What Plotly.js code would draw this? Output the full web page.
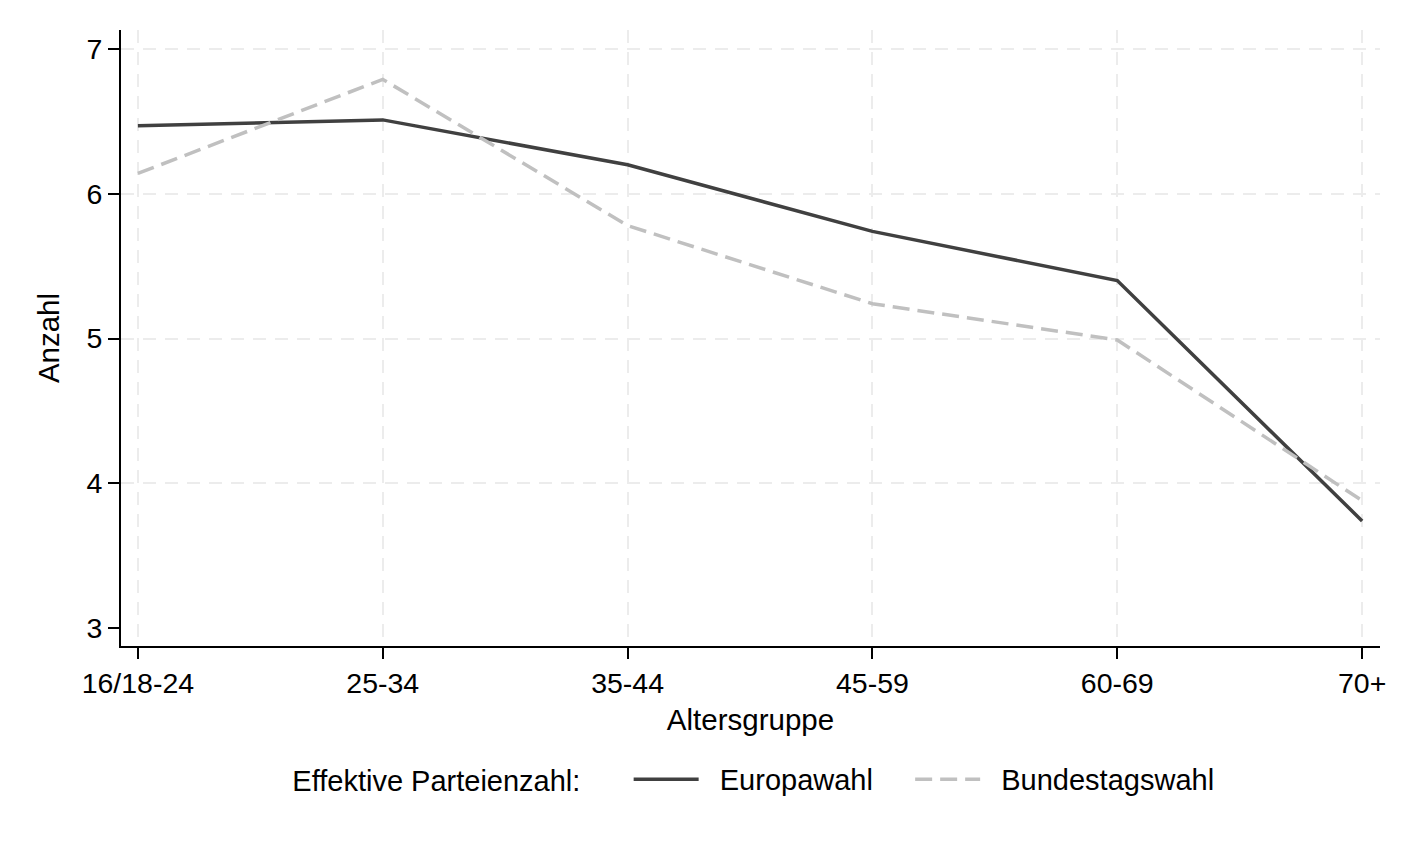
<!DOCTYPE html>
<html>
<head>
<meta charset="utf-8">
<script src="https://cdn.plot.ly/plotly-3.0.1.min.js"></script>
<style>
  html, body { margin: 0; padding: 0; background: #fff; }
  #plot { width: 1411px; height: 846px; }
</style>
</head>
<body>
<div id="plot"></div>
<script>
const ageGroups = ['16/18-24', '25-34', '35-44', '45-59', '60-69', '70+']
const europawahl = [6.47, 6.51, 6.20, 5.74, 5.40, 3.74]
const bundestagswahl = [6.14, 6.79, 5.78, 5.24, 4.99, 3.88]
const yTicks = [3, 4, 5, 6, 7]
const yGridTicks = [4, 5, 6, 7]

const FONT = 'Liberation Sans, Arial, sans-serif'
const gridColor = '#ececec'
const pad = '\u00a0\u00a0'
const trail = '\u00a0\u00a0\u00a0\u00a0'

const traceEuropa = {
    x: ageGroups,
    y: europawahl,
    type: 'scatter',
    mode: 'lines',
    name: pad + 'Europawahl' + trail,
    line: { color: '#404040', width: 3.5 }
}

const traceBundestag = {
    x: ageGroups,
    y: bundestagswahl,
    type: 'scatter',
    mode: 'lines',
    name: pad + 'Bundestagswahl',
    line: { color: '#c0c0c0', width: 3.5, dash: '17px,8px' }
}

const layout = {
    width: 1411,
    height: 846,
    margin: { l: 121, r: 31, t: 30, b: 200 },
    paper_bgcolor: '#fff',
    plot_bgcolor: '#fff',
    font: { family: FONT, size: 28.5, color: '#000' },
    showlegend: true,
    legend: {
        orientation: 'h',
        x: 0.1345,
        xanchor: 'left',
        y: -0.175,
        yanchor: 'top',
        title: { text: 'Effektive Parteienzahl:\u00a0\u00a0\u00a0\u00a0\u00a0', side: 'left', font: { size: 29 } },
        font: { size: 29 },
        itemwidth: 65,
        bgcolor: 'rgba(0,0,0,0)'
    },
    xaxis: {
        type: 'category',
        range: [-0.069, 5.073],
        showline: true,
        linecolor: '#000',
        linewidth: 2,
        ticks: 'outside',
        ticklen: 11,
        tickwidth: 2,
        tickcolor: '#000',
        showgrid: true,
        gridcolor: gridColor,
        gridwidth: 2,
        griddash: '13px,9px',
        zeroline: false,
        title: { text: 'Altersgruppe', standoff: 11, font: { size: 29.5 } },
        tickfont: { size: 28.5 }
    },
    yaxis: {
        range: [2.876, 7.131],
        tickvals: yTicks,
        ticktext: yTicks.map(String),
        showline: true,
        linecolor: '#000',
        linewidth: 2,
        ticks: 'outside',
        ticklen: 11,
        tickwidth: 2,
        tickcolor: '#000',
        showgrid: false,
        zeroline: false,
        title: { text: 'Anzahl', standoff: 18, font: { size: 29.5 } },
        tickfont: { size: 28.5 }
    },
    yaxis2: {
        range: [2.876, 7.131],
        overlaying: 'y',
        tickvals: yGridTicks,
        showticklabels: false,
        ticks: '',
        showline: false,
        showgrid: true,
        gridcolor: gridColor,
        gridwidth: 2,
        griddash: '13px,9px',
        zeroline: false,
        layer: 'below traces'
    }
}

// invisible trace to keep the grid axis alive
const gridTrace = {
    x: ageGroups,
    y: europawahl,
    yaxis: 'y2',
    type: 'scatter',
    mode: 'lines',
    line: { width: 0 },
    hoverinfo: 'skip',
    showlegend: false,
    opacity: 0
}

Plotly.newPlot('plot', [gridTrace, traceEuropa, traceBundestag], layout, { displayModeBar: false, staticPlot: true })
</script>
</body>
</html>
